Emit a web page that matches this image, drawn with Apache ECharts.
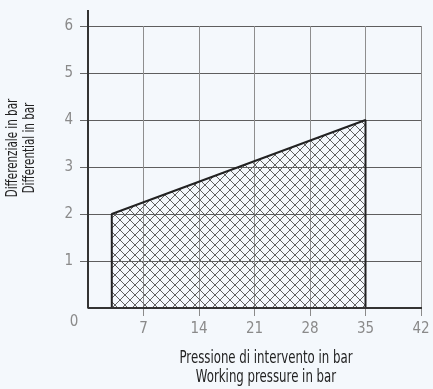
<!DOCTYPE html>
<html><head><meta charset="utf-8">
<script src="https://cdn.jsdelivr.net/npm/echarts@6/dist/echarts.min.js"></script>
<style>html,body{margin:0;padding:0;background:#f4f8fc}#c{width:433px;height:389px}</style>
</head><body><div id="c"></div>
<script>
// ---- data ----
const xTickLabels = [7, 14, 21, 28, 35, 42];
const yTickLabels = [1, 2, 3, 4, 5, 6];
const regionPressure = [3, 3, 35, 35];
const regionDifferential = [0, 2, 4, 0];
const xNameLines = ['Pressione di intervento in bar', 'Working pressure in bar'];
const yNameLines = ['Differenziale in bar', 'Differential in bar'];
const originLabel = '0';
const axisEndX = 43.5;
const axisEndY = 6.34;

const FONT = "'Liberation Sans Narrow','DejaVu Sans Condensed','Arial Narrow',sans-serif";
const P = 10; // hatch period

function hatchCanvas() {
  const c = document.createElement('canvas');
  c.width = P; c.height = P;
  const g = c.getContext('2d');
  g.strokeStyle = '#606060';
  g.lineWidth = 1;
  g.beginPath();
  for (let k = -P; k <= P; k += P) {
    g.moveTo(k - 1, -1); g.lineTo(k + P + 1, P + 1);
    g.moveTo(k - 1, P + 1); g.lineTo(k + P + 1, -1);
  }
  g.stroke();
  return c;
}

const chart = echarts.init(document.getElementById('c'), null, {renderer: 'canvas'});
chart.setOption({
  backgroundColor: '#f4f8fc',
  animation: false,
  grid: {left: 88, right: 12, top: 26, bottom: 81},
  xAxis: {
    type: 'value', min: 0, max: 42, interval: 7,
    axisLine: {show: false},
    axisTick: {show: true, length: 8, customValues: xTickLabels, lineStyle: {color: '#8a8a8a', width: 1}},
    axisLabel: {customValues: xTickLabels, color: '#8a8a8a', fontSize: 15, fontFamily: FONT, margin: 14},
    splitLine: {show: true, lineStyle: {color: '#8e8e8e', width: 1}}
  },
  yAxis: {
    type: 'value', min: 0, max: 6, interval: 1,
    axisLine: {show: false},
    axisTick: {show: true, length: 8, customValues: yTickLabels, lineStyle: {color: '#666', width: 1}},
    axisLabel: {customValues: yTickLabels, color: '#8a8a8a', fontSize: 15, fontFamily: FONT, margin: 15},
    splitLine: {show: true, lineStyle: {color: '#5e5e5e', width: 1}}
  },
  series: [
    {
      type: 'line',
      data: regionPressure.map((x, i) => [x, regionDifferential[i]]),
      symbol: 'none',
      silent: true,
      z: 3,
      lineStyle: {color: '#222', width: 2},
      areaStyle: {color: {image: hatchCanvas(), repeat: 'repeat'}, opacity: 1}
    },
    {
      type: 'line',
      data: [[0, axisEndY], [0, 0], [axisEndX, 0]],
      symbol: 'none',
      silent: true,
      clip: false,
      z: 5,
      lineStyle: {color: '#333', width: 2}
    }
  ],
  graphic: [
    {type: 'text', x: 74, y: 322, silent: true,
     style: {text: originLabel, align: 'center', verticalAlign: 'middle', fill: '#8a8a8a', fontSize: 15, fontFamily: FONT}},
    {type: 'text', x: 21.5, y: 148, rotation: Math.PI / 2, scaleX: 0.72, silent: true,
     style: {text: yNameLines.join('\n'), align: 'center', verticalAlign: 'middle', lineHeight: 17, fill: '#222', fontSize: 16, fontFamily: FONT}},
    {type: 'text', x: 266, y: 368, scaleX: 0.77, silent: true,
     style: {text: xNameLines.join('\n'), align: 'center', verticalAlign: 'middle', lineHeight: 19, fill: '#222', fontSize: 17, fontFamily: FONT}}
  ]
});
</script>
</body></html>
